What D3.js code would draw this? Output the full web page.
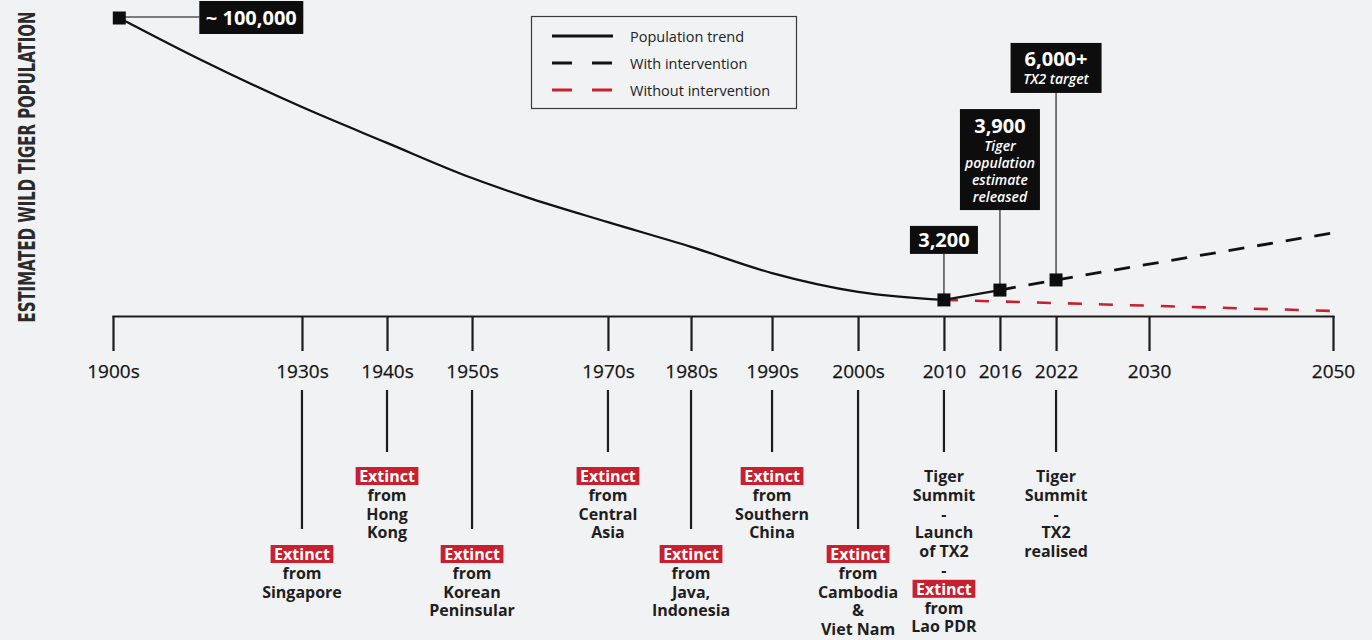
<!DOCTYPE html>
<html><head><meta charset="utf-8">
<script src="https://cdn.jsdelivr.net/npm/d3@7"></script>
<style>
html,body{margin:0;padding:0;background:#f1f2f4;}
svg{display:block;}
</style></head><body>
<svg id="chart" width="1372" height="640"></svg>
<script>
// ---------------- data ----------------
const tickYears  = [1900,1930,1940,1950,1970,1980,1990,2000,2010,2016,2022,2030,2050];
const tickLabels = ["1900s","1930s","1940s","1950s","1970s","1980s","1990s","2000s","2010","2016","2022","2030","2050"];

// schematic population level (0 = baseline, 100 = ~100,000 in 1900)
const trendYears = [1901,1914,1930,1940,1950,1958,1970,1980,1990,2000,2010,2016];
const trendLevel = [100,85.9,70.1,58.1,46.3,39.9,31.5,23.2,14.4,8.1,5.4,8.7];
const withYears    = [2016,2022,2050];
const withLevel    = [8.7,12.1,27.9];
const withoutYears = [2010,2050];
const withoutLevel = [5.4,1.7];

const markerYears = [1901,2010,2016,2022];
const markerLevel = [100,5.4,8.7,12.1];

const calloutTitles = ["~ 100,000","3,200","3,900","6,000+"];
const calloutNotes  = [[],[],["Tiger","population","estimate","released"],["TX2 target"]];

const eventYears = [1930,1940,1950,1970,1980,1990,2000,2010,2022];
const eventTier  = [1,0,1,0,1,0,1,0,0];
const eventLines = [
  ["Extinct","from","Singapore"],
  ["Extinct","from","Hong","Kong"],
  ["Extinct","from","Korean","Peninsular"],
  ["Extinct","from","Central","Asia"],
  ["Extinct","from","Java,","Indonesia"],
  ["Extinct","from","Southern","China"],
  ["Extinct","from","Cambodia","&","Viet Nam"],
  ["Tiger","Summit","-","Launch","of TX2","-","Extinct","from","Lao PDR"],
  ["Tiger","Summit","-","TX2","realised"]
];

const legendLabels = ["Population trend","With intervention","Without intervention"];
const yTitle = "ESTIMATED WILD TIGER POPULATION";

// ---------------- layout ----------------
const RED = "#c8202f", INK = "#1c1c1c";
const FONT = "'Open Sans', 'Noto Sans', sans-serif";
const svg = d3.select("#chart");
svg.append("rect").attr("width",1372).attr("height",640).attr("fill","#f1f2f4");

const axisY = 316, x0 = 113, x1 = 1333;
// non-uniform timeline spacing as in the original graphic
const timelineFrac = [0,0.1549,0.2246,0.2943,0.4057,0.4738,0.5402,0.6107,0.6811,0.7270,0.7730,0.8492,1];
const x = d3.scaleLinear().domain(tickYears).range(timelineFrac.map(f => x0 + f*(x1-x0)));
const y = d3.scaleLinear().domain([0,100]).range([axisY, 18]);

// y title
svg.append("text")
  .attr("transform","translate(27,167) rotate(-90)")
  .attr("text-anchor","middle").attr("dominant-baseline","central")
  .attr("font-family","'DejaVu Sans Condensed','Liberation Sans Narrow','DejaVu Sans',sans-serif")
  .attr("font-weight","bold").attr("font-size",23).attr("fill","#2b2b2b")
  .attr("textLength",311).attr("lengthAdjust","spacingAndGlyphs")
  .text(yTitle);

// axis
const axis = d3.axisBottom(x).tickValues(tickYears)
  .tickFormat((d,i) => tickLabels[i]).tickSize(35).tickSizeOuter(0).tickPadding(14);
const gAxis = svg.append("g").attr("transform",`translate(0,${axisY})`).call(axis)
  .attr("font-family",FONT).attr("font-size",19);
gAxis.select(".domain").attr("stroke",INK).attr("stroke-width",2.2).attr("stroke-linecap","square");
gAxis.selectAll(".tick line").attr("stroke",INK).attr("stroke-width",2.2);
gAxis.selectAll(".tick text").attr("fill","#141414").attr("stroke","#141414").attr("stroke-width",0.25);

// lines
const trend = trendYears.map((yr,i) => ({yr, v: trendLevel[i]}));
const hist = trend.filter(d => d.yr <= 2010), recent = trend.filter(d => d.yr >= 2010);
const smooth = d3.line().x(d => x(d.yr)).y(d => y(d.v)).curve(d3.curveMonotoneX);
const straight = d3.line().x(d => x(d.yr)).y(d => y(d.v));
const withData = withYears.map((yr,i) => ({yr, v: withLevel[i]}));
const withoutData = withoutYears.map((yr,i) => ({yr, v: withoutLevel[i]}));

svg.append("path").datum(withoutData).attr("d",straight)
  .attr("fill","none").attr("stroke",RED).attr("stroke-width",2.6).attr("stroke-dasharray","14,17");
svg.append("path").datum(withData).attr("d",straight)
  .attr("fill","none").attr("stroke","#111").attr("stroke-width",2.8).attr("stroke-dasharray","16,13");
svg.append("path").datum(hist).attr("d",smooth)
  .attr("fill","none").attr("stroke","#111").attr("stroke-width",2.2);
svg.append("path").datum(recent).attr("d",straight)
  .attr("fill","none").attr("stroke","#111").attr("stroke-width",2.2);

// callouts
const calloutLayout = [
  {dir:"right", gap:80, w:104, h:33},
  {dir:"up", stem:46, w:68, h:28},
  {dir:"up", stem:80, w:80, h:101},
  {dir:"up", stem:187, w:91, h:50}
];
markerYears.forEach((yr,i) => {
  const mx = x(yr), my = y(markerLevel[i]), L = calloutLayout[i];
  let bx, by;
  if (L.dir === "right") {
    bx = mx + L.gap; by = my - L.h/2 - 0.5;
    svg.append("line").attr("x1",mx).attr("x2",bx).attr("y1",my-1).attr("y2",my-1)
      .attr("stroke","#555").attr("stroke-width",1.4);
  } else {
    bx = mx - L.w/2; by = my - L.stem - L.h;
    svg.append("line").attr("x1",mx).attr("x2",mx).attr("y1",my).attr("y2",my-L.stem)
      .attr("stroke","#444").attr("stroke-width",1.4);
  }
  svg.append("rect").attr("x",bx).attr("y",by).attr("width",L.w).attr("height",L.h).attr("fill","#0d0d0d");
  const notes = calloutNotes[i];
  svg.append("text").attr("x",bx+L.w/2).attr("y", notes.length ? by+16 : by+L.h/2)
    .attr("text-anchor","middle").attr("dominant-baseline","central")
    .attr("font-family",FONT).attr("font-weight","bold").attr("font-size",20).attr("fill","#fff")
    .text(calloutTitles[i]);
  notes.forEach((n,j) => {
    svg.append("text").attr("x",bx+L.w/2).attr("y",by+36+j*17)
      .attr("text-anchor","middle").attr("dominant-baseline","central")
      .attr("font-family",FONT).attr("font-style","italic").attr("font-weight",600)
      .attr("font-size",14).attr("fill","#fff").text(n);
  });
});

// markers
svg.selectAll("rect.marker").data(markerYears).join("rect").attr("class","marker")
  .attr("x",d => x(d)-6.5).attr("y",(d,i) => y(markerLevel[i])-6.5)
  .attr("width",13).attr("height",13).attr("fill","#0d0d0d");

// events below axis
const lineStep = 18.8;
eventYears.forEach((yr,i) => {
  const ex = x(yr), tier = eventTier[i];
  const stemEnd = tier ? 529 : 452;
  svg.append("line").attr("x1",ex).attr("x2",ex).attr("y1",390).attr("y2",stemEnd)
    .attr("stroke",INK).attr("stroke-width",2.2);
  const firstY = tier ? 554 : 476;
  eventLines[i].forEach((t,j) => {
    const cy = firstY + j*lineStep;
    if (t === "Extinct") {
      const g = svg.append("g");
      const r = g.append("rect").attr("fill",RED);
      const tx = g.append("text").attr("x",ex).attr("y",cy)
        .attr("text-anchor","middle").attr("dominant-baseline","central")
        .attr("font-family",FONT).attr("font-weight","bold").attr("font-size",16).attr("fill","#fff")
        .text(t);
      const w = tx.node().getComputedTextLength() + 7;
      r.attr("x",ex-w/2).attr("y",cy-9).attr("width",w).attr("height",18);
    } else {
      svg.append("text").attr("x",ex).attr("y",cy)
        .attr("text-anchor","middle").attr("dominant-baseline","central")
        .attr("font-family",FONT).attr("font-weight","bold").attr("font-size",16).attr("fill","#1e1e1e")
        .text(t);
    }
  });
});

// legend
const lg = svg.append("g").attr("transform","translate(531,16)");
lg.append("rect").attr("x",0.5).attr("y",0.5).attr("width",265).attr("height",92)
  .attr("fill","none").attr("stroke","#3a3a3a").attr("stroke-width",1.2);
const legendStyles = [
  {stroke:"#111", dash:null},
  {stroke:"#111", dash:"20,20"},
  {stroke:RED, dash:"20,20"}
];
legendLabels.forEach((lab,i) => {
  const ly = 20 + i*27;
  lg.append("line").attr("x1",21).attr("x2",82).attr("y1",ly).attr("y2",ly)
    .attr("stroke",legendStyles[i].stroke).attr("stroke-width",3)
    .attr("stroke-dasharray",legendStyles[i].dash);
  lg.append("text").attr("x",99).attr("y",ly).attr("dominant-baseline","central")
    .attr("font-family",FONT).attr("font-size",14.5).attr("fill","#222").text(lab);
});
</script>
</body></html>
